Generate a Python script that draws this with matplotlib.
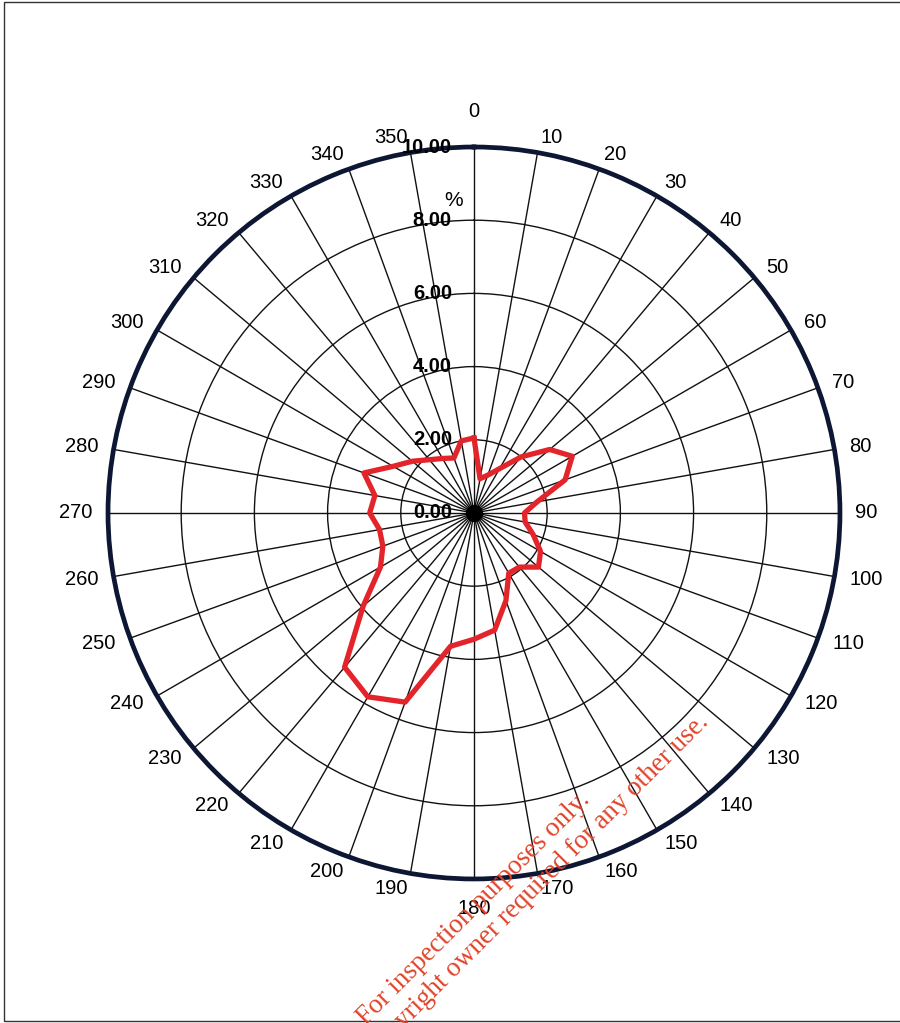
"""Wind-rose style polar chart: percentage frequency per 10-degree sector."""

import matplotlib.pyplot as plt
import numpy as np
from matplotlib import transforms
from matplotlib.patches import Rectangle

plt.rcParams["font.family"] = ["Liberation Sans", "DejaVu Sans"]

# ── Data ─────────────────────────────────────────────────────────────────────
directions = np.arange(0, 360, 10)
percent = [
    2.05, 0.95, 1.10, 1.40, 2.00, 2.70, 3.10, 2.65, 1.75,   # 0 - 80
    1.38, 1.42, 1.72, 2.10, 2.30, 1.93, 1.90, 2.55, 3.25,   # 90 - 170
    3.45, 3.70, 5.50, 5.80, 5.50, 3.95, 2.95, 2.65, 2.62,   # 180 - 260
    2.85, 2.75, 3.20, 2.55, 2.20, 1.90, 1.72, 1.60, 2.00,   # 270 - 350
]
ring_values = [0, 2, 4, 6, 8, 10]
ring_labels = ["0.00", "2.00", "4.00", "6.00", "8.00", "10.00"]

# ── Figure ───────────────────────────────────────────────────────────────────
fig = plt.figure(figsize=(9, 10.23), dpi=100)
ax = fig.add_axes([0.12, 0.1408, 0.8133, 0.7155], projection="polar")
ax.set_theta_zero_location("N")
ax.set_theta_direction(-1)
ax.set_ylim(0, 10)

ax.set_thetagrids(directions, labels=[""] * len(directions))
ax.set_rgrids([2, 4, 6, 8], labels=[""] * 4)
ax.grid(True, color="#111111", linewidth=1.0)
ax.spines["polar"].set_color("#0d1733")
ax.spines["polar"].set_linewidth(3.4)

# closed red outline
theta = np.deg2rad(np.r_[directions, directions[0]])
radius = np.r_[percent, percent[0]]
ax.plot(theta, radius, color="#e3242b", linewidth=3.8, zorder=5)
ax.scatter([0], [0], s=130, color="black", zorder=6)

# direction labels round the outside
for d in directions:
    th = np.deg2rad(d)
    s = np.sin(th)
    if d == 0:
        ax.text(th, 10.72, "0", ha="center", va="bottom", fontsize=14.5)
        continue
    if d == 180:
        ax.text(th, 10.55, "180", ha="center", va="top", fontsize=14.5)
        continue
    ax.text(th, 10.42, str(d), ha="left" if s > 0 else "right",
            va="center", fontsize=14.5)

# ring values up the 0-degree line
shift = transforms.offset_copy(ax.transData, fig=fig, x=-22, y=0, units="dots")
for v, lab in zip(ring_values, ring_labels):
    ax.text(0, v, lab, transform=shift, ha="right", va="center",
            fontsize=14.5, fontweight="bold", zorder=7)
pct = transforms.offset_copy(ax.transData, fig=fig, x=-11, y=0, units="dots")
ax.text(0, 8.55, "%", transform=pct, ha="right", va="center", fontsize=15)

# page frame
fig.add_artist(Rectangle((0.0045, 0.002), 1.0, 0.9965, transform=fig.transFigure,
                         fill=False, edgecolor="#333333", linewidth=1.0))

# watermark
fig.text(0.538, 0.102,
         "For inspection purposes only.\nConsent of copyright owner required for any other use.",
         rotation=45, ha="center", va="center", multialignment="center",
         fontsize=19.5, color="#e0442a", rotation_mode="anchor",
         family=["Liberation Serif", "DejaVu Serif"], zorder=10)

fig.savefig("out.png", dpi=100)
